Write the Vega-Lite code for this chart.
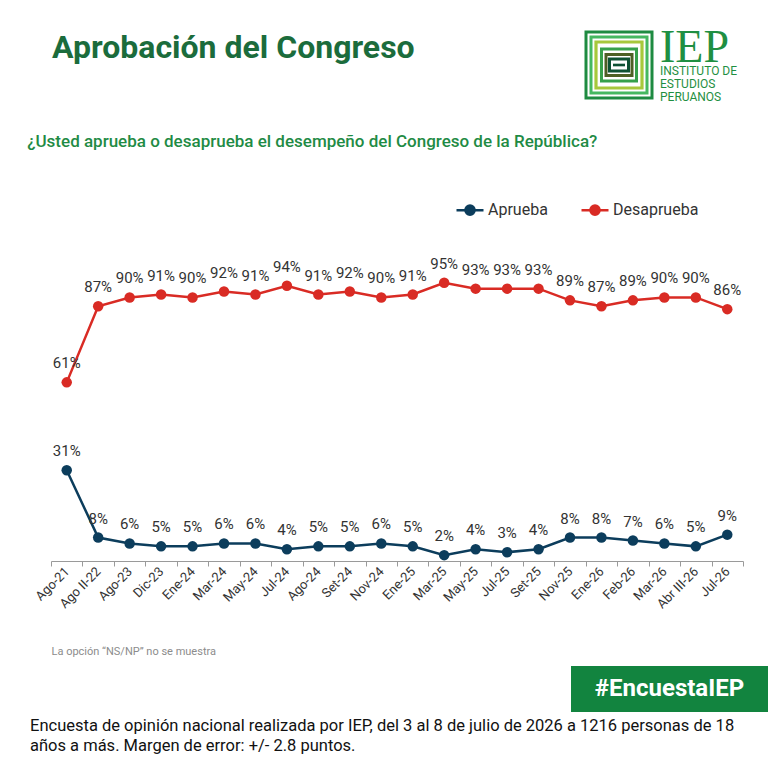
{
  "$schema": "https://vega.github.io/schema/vega-lite/v6.json",
  "background": "white",
  "padding": {"left": 27, "top": 25, "right": 0, "bottom": 10},
  "spacing": 9,
  "resolve": {"scale": {"color": "independent"}, "legend": {"color": "independent"}},
  "config": {"view": {"stroke": null}, "font": "Roboto"},
  "vconcat": [
    {
      "spacing": 165,
      "hconcat": [
        {
          "width": 2,
          "height": 38,
          "data": {"values": [{"t": "Aprobación del Congreso"}]},
          "mark": {"type": "text", "align": "left", "baseline": "middle", "fontSize": 32, "fontWeight": "bold", "font": "Roboto", "color": "#1b6c3c"},
          "encoding": {"text": {"field": "t"}}
        },
        {
          "width": 74,
          "height": 72,
          "data": {"values": [{"sigla": "IEP", "nombre": "INSTITUTO DE\nESTUDIOS\nPERUANOS"}]},
          "layer": [
            {"mark": {"type": "point", "shape": "M-1,-1H1V1H-1Z", "filled": false, "size": 4356, "strokeWidth": 3, "color": "#1e8b41", "opacity": 1}},
            {"mark": {"type": "point", "shape": "M-1,-1H1V1H-1Z", "filled": false, "size": 3136, "strokeWidth": 3, "color": "#45b860", "opacity": 1}},
            {"mark": {"type": "point", "shape": "M-1,-1H1V1H-1Z", "filled": false, "size": 2116, "strokeWidth": 3.2, "color": "#a7c83c", "opacity": 1}},
            {"mark": {"type": "point", "shape": "M-1,-0.92H1V0.92H-1Z", "filled": false, "size": 1225, "strokeWidth": 3, "color": "#36a04b", "opacity": 1}},
            {"mark": {"type": "point", "shape": "M-1,-0.8H1V0.8H-1Z", "filled": false, "size": 676, "strokeWidth": 3, "color": "#4d5f25", "opacity": 1}},
            {"mark": {"type": "point", "shape": "M-1,-0.62H1V0.62H-1Z", "filled": false, "size": 361, "strokeWidth": 3, "color": "#0f5134", "opacity": 1}},
            {"mark": {"type": "point", "shape": "M-1,-0.22H1V0.22H-1Z", "filled": true, "size": 144, "color": "#0f5134", "opacity": 1}},
            {
              "mark": {"type": "text", "align": "left", "baseline": "alphabetic", "dx": 41, "dy": -3, "fontSize": 46, "font": "Liberation Serif", "color": "#1f8f42"},
              "encoding": {"text": {"field": "sigla"}}
            },
            {
              "mark": {"type": "text", "align": "left", "baseline": "top", "dx": 41, "dy": 1, "fontSize": 12, "font": "Roboto", "color": "#1f8f42", "lineBreak": "\n", "lineHeight": 13},
              "encoding": {"text": {"field": "nombre"}}
            }
          ]
        }
      ]
    },
    {
      "width": 1,
      "height": 11,
      "data": {"values": [{"vacio": 0}]},
      "mark": {"type": "point", "opacity": 0}
    },
    {
      "width": 692,
      "height": 410,
      "title": {
        "text": "¿Usted aprueba o desaprueba el desempeño del Congreso de la República?",
        "anchor": "start",
        "dx": -6,
        "offset": 0,
        "fontSize": 17,
        "fontWeight": 500,
        "font": "Roboto",
        "color": "#1f8b45"
      },
      "data": {
        "values": [
          {"periodo": "Ago-21", "serie": "Aprueba", "valor": 31, "etiqueta": "31%"},
          {"periodo": "Ago-21", "serie": "Desaprueba", "valor": 61, "etiqueta": "61%"},
          {"periodo": "Ago II-22", "serie": "Aprueba", "valor": 8, "etiqueta": "8%"},
          {"periodo": "Ago II-22", "serie": "Desaprueba", "valor": 87, "etiqueta": "87%"},
          {"periodo": "Ago-23", "serie": "Aprueba", "valor": 6, "etiqueta": "6%"},
          {"periodo": "Ago-23", "serie": "Desaprueba", "valor": 90, "etiqueta": "90%"},
          {"periodo": "Dic-23", "serie": "Aprueba", "valor": 5, "etiqueta": "5%"},
          {"periodo": "Dic-23", "serie": "Desaprueba", "valor": 91, "etiqueta": "91%"},
          {"periodo": "Ene-24", "serie": "Aprueba", "valor": 5, "etiqueta": "5%"},
          {"periodo": "Ene-24", "serie": "Desaprueba", "valor": 90, "etiqueta": "90%"},
          {"periodo": "Mar-24", "serie": "Aprueba", "valor": 6, "etiqueta": "6%"},
          {"periodo": "Mar-24", "serie": "Desaprueba", "valor": 92, "etiqueta": "92%"},
          {"periodo": "May-24", "serie": "Aprueba", "valor": 6, "etiqueta": "6%"},
          {"periodo": "May-24", "serie": "Desaprueba", "valor": 91, "etiqueta": "91%"},
          {"periodo": "Jul-24", "serie": "Aprueba", "valor": 4, "etiqueta": "4%"},
          {"periodo": "Jul-24", "serie": "Desaprueba", "valor": 94, "etiqueta": "94%"},
          {"periodo": "Ago-24", "serie": "Aprueba", "valor": 5, "etiqueta": "5%"},
          {"periodo": "Ago-24", "serie": "Desaprueba", "valor": 91, "etiqueta": "91%"},
          {"periodo": "Set-24", "serie": "Aprueba", "valor": 5, "etiqueta": "5%"},
          {"periodo": "Set-24", "serie": "Desaprueba", "valor": 92, "etiqueta": "92%"},
          {"periodo": "Nov-24", "serie": "Aprueba", "valor": 6, "etiqueta": "6%"},
          {"periodo": "Nov-24", "serie": "Desaprueba", "valor": 90, "etiqueta": "90%"},
          {"periodo": "Ene-25", "serie": "Aprueba", "valor": 5, "etiqueta": "5%"},
          {"periodo": "Ene-25", "serie": "Desaprueba", "valor": 91, "etiqueta": "91%"},
          {"periodo": "Mar-25", "serie": "Aprueba", "valor": 2, "etiqueta": "2%"},
          {"periodo": "Mar-25", "serie": "Desaprueba", "valor": 95, "etiqueta": "95%"},
          {"periodo": "May-25", "serie": "Aprueba", "valor": 4, "etiqueta": "4%"},
          {"periodo": "May-25", "serie": "Desaprueba", "valor": 93, "etiqueta": "93%"},
          {"periodo": "Jul-25", "serie": "Aprueba", "valor": 3, "etiqueta": "3%"},
          {"periodo": "Jul-25", "serie": "Desaprueba", "valor": 93, "etiqueta": "93%"},
          {"periodo": "Set-25", "serie": "Aprueba", "valor": 4, "etiqueta": "4%"},
          {"periodo": "Set-25", "serie": "Desaprueba", "valor": 93, "etiqueta": "93%"},
          {"periodo": "Nov-25", "serie": "Aprueba", "valor": 8, "etiqueta": "8%"},
          {"periodo": "Nov-25", "serie": "Desaprueba", "valor": 89, "etiqueta": "89%"},
          {"periodo": "Ene-26", "serie": "Aprueba", "valor": 8, "etiqueta": "8%"},
          {"periodo": "Ene-26", "serie": "Desaprueba", "valor": 87, "etiqueta": "87%"},
          {"periodo": "Feb-26", "serie": "Aprueba", "valor": 7, "etiqueta": "7%"},
          {"periodo": "Feb-26", "serie": "Desaprueba", "valor": 89, "etiqueta": "89%"},
          {"periodo": "Mar-26", "serie": "Aprueba", "valor": 6, "etiqueta": "6%"},
          {"periodo": "Mar-26", "serie": "Desaprueba", "valor": 90, "etiqueta": "90%"},
          {"periodo": "Abr III-26", "serie": "Aprueba", "valor": 5, "etiqueta": "5%"},
          {"periodo": "Abr III-26", "serie": "Desaprueba", "valor": 90, "etiqueta": "90%"},
          {"periodo": "Jul-26", "serie": "Aprueba", "valor": 9, "etiqueta": "9%"},
          {"periodo": "Jul-26", "serie": "Desaprueba", "valor": 86, "etiqueta": "86%"}
        ]
      },
      "encoding": {
        "x": {
          "field": "periodo",
          "type": "ordinal",
          "sort": null,
          "scale": {"type": "band", "paddingInner": 0, "paddingOuter": 0},
          "axis": {
            "title": "La opción “NS/NP” no se muestra",
            "titleAnchor": "start",
            "titleAlign": "left",
            "titleBaseline": "top",
            "titleFontSize": 11,
            "titleFontWeight": "normal",
            "titleFont": "Roboto",
            "titleColor": "#8c8c8c",
            "titlePadding": 35,
            "labelAngle": -45,
            "labelAlign": "right",
            "labelBaseline": "middle",
            "labelFontSize": 13,
            "labelFont": "Roboto",
            "labelColor": "#333333",
            "labelPadding": 3,
            "labelOverlap": false,
            "labelFlush": false,
            "tickBand": "extent",
            "tickSize": 5,
            "tickColor": "#9a9a9a",
            "domainColor": "#9a9a9a",
            "grid": false
          }
        },
        "y": {
          "field": "valor",
          "type": "quantitative",
          "scale": {"domain": [0, 140], "nice": false, "zero": true},
          "axis": null
        },
        "color": {
          "field": "serie",
          "type": "nominal",
          "scale": {"domain": ["Aprueba", "Desaprueba"], "range": ["#0c3d5c", "#d92b24"]},
          "legend": {
            "title": null,
            "orient": "top-right",
            "direction": "horizontal",
            "offset": 44,
            "padding": 0,
            "labelFontSize": 16,
            "labelFont": "Roboto",
            "labelColor": "#333333",
            "labelOffset": 3,
            "columnPadding": 28,
            "symbolType": "M-1,0H1M-0.34,0A0.34,0.34 0 1,0 0.34,0A0.34,0.34 0 1,0 -0.34,0",
            "symbolSize": 729,
            "symbolStrokeWidth": 2.5,
            "encode": {
              "symbols": {
                "update": {
                  "fill": {"signal": "datum.value === 'Aprueba' ? '#0c3d5c' : '#d92b24'"},
                  "stroke": {"signal": "datum.value === 'Aprueba' ? '#0c3d5c' : '#d92b24'"},
                  "opacity": {"value": 1}
                }
              }
            }
          }
        }
      },
      "layer": [
        {"mark": {"type": "line", "strokeWidth": 2.5}},
        {"mark": {"type": "point", "filled": true, "size": 110, "opacity": 1}},
        {
          "mark": {"type": "text", "dy": -14, "fontSize": 15, "font": "Roboto", "baseline": "alphabetic"},
          "encoding": {"text": {"field": "etiqueta"}, "color": {"value": "#333333"}}
        }
      ]
    },
    {
      "spacing": 0,
      "title": {
        "text": ["Encuesta de opinión nacional realizada por IEP, del 3 al 8 de julio de 2026 a 1216 personas de 18", "años a más. Margen de error: +/- 2.8 puntos."],
        "orient": "bottom",
        "anchor": "start",
        "dx": -21,
        "offset": 6,
        "fontSize": 16.5,
        "fontWeight": "normal",
        "font": "Roboto",
        "color": "#111111",
        "lineHeight": 20,
        "baseline": "top"
      },
      "hconcat": [
        {
          "width": 520,
          "height": 46,
          "data": {"values": [{"vacio": 0}]},
          "mark": {"type": "point", "opacity": 0}
        },
        {
          "width": 197,
          "height": 46,
          "view": {"fill": "#12843f", "stroke": null},
          "data": {"values": [{"hashtag": "#EncuestaIEP"}]},
          "mark": {"type": "text", "align": "center", "baseline": "middle", "fontSize": 24, "fontWeight": "bold", "font": "Roboto", "color": "white"},
          "encoding": {"text": {"field": "hashtag"}}
        }
      ]
    }
  ]
}
